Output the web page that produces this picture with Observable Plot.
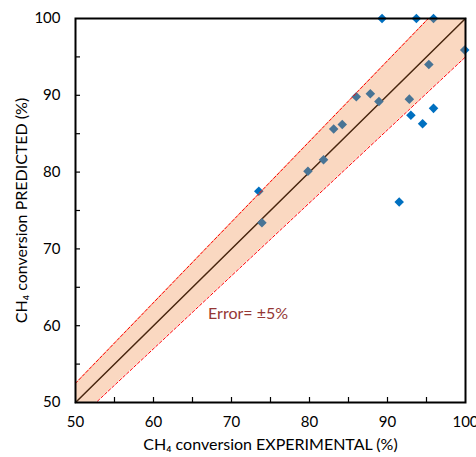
<!DOCTYPE html>
<html>
<head>
<meta charset="utf-8">
<script src="https://cdn.jsdelivr.net/npm/d3@7"></script>
<script src="https://cdn.jsdelivr.net/npm/@observablehq/plot@0.6"></script>
<style>
  html, body { margin: 0; padding: 0; background: #fff; }
  #chart { width: 476px; height: 457px; }
  svg { font-family: Lato, "Open Sans", sans-serif; }
</style>
</head>
<body>
<div id="chart"></div>
<script>
// Data
const experimental = [89.3, 93.7, 95.9, 99.9, 95.3, 86.0, 87.8, 88.9, 92.8, 95.9, 93.0, 94.5, 83.1, 84.2, 81.8, 79.8, 73.5, 73.9, 91.5];
const predicted    = [100,  100,  100,  95.9, 94.0, 89.8, 90.2, 89.2, 89.5, 88.3, 87.4, 86.3, 85.6, 86.2, 81.6, 80.1, 77.5, 73.4, 76.1];
const axisRange = [50, 100];
const majorTicks = [50, 60, 70, 80, 90, 100];
const minorTicks = [55, 60, 65, 70, 75, 80, 85, 90, 95];
const errorPct = 5;
const xLabel = "CH\u2084 conversion EXPERIMENTAL (%)";
const yLabel = "CH\u2084 conversion PREDICTED (%)";
const annotation = [{x: 67, y: 61.6, text: "Error= \u00b15%"}];

const points = experimental.map((x, i) => ({x, y: predicted[i]}));
const diag = axisRange.map(v => ({x: v, y: v}));
const band = axisRange.map(v => ({x: v, lo: v * (1 - errorPct / 100), hi: v * (1 + errorPct / 100)}));

const W = 476, H = 457, ML = 75, MR = 11, MT = 18, MB = 55, TICK = 5;
const frameW = W - ML - MR, frameH = H - MT - MB;

const chart = Plot.plot({
  width: W,
  height: H,
  marginLeft: ML,
  marginRight: MR,
  marginTop: MT,
  marginBottom: MB,
  x: {domain: axisRange},
  y: {domain: axisRange},
  style: {fontFamily: "Lato, 'Open Sans', sans-serif", fontSize: "15px", color: "#000", background: "#fff"},
  marks: [
    Plot.line(diag, {x: "x", y: "y", stroke: "#000", strokeWidth: 1.5}),
    Plot.dot(points, {x: "x", y: "y", symbol: "diamond2", r: 4.3, fill: "#0070C0", stroke: "none"}),
    Plot.areaY(band, {x: "x", y1: "lo", y2: "hi", fill: "#ED7D31", fillOpacity: 0.3, clip: true}),
    Plot.line(band, {x: "x", y: "hi", stroke: "#FF0000", strokeWidth: 1, strokeDasharray: "3,2", clip: true}),
    Plot.line(band, {x: "x", y: "lo", stroke: "#FF0000", strokeWidth: 1, strokeDasharray: "3,2", clip: true}),
    Plot.text(annotation, {x: "x", y: "y", text: "text", textAnchor: "start", fill: "#953735", fontSize: 16}),
    Plot.tickX(minorTicks, {x: d => d, insetTop: frameH - TICK, stroke: "#000", strokeWidth: 1.2}),
    Plot.tickY(minorTicks, {y: d => d, insetRight: frameW - TICK, stroke: "#000", strokeWidth: 1.2}),
    Plot.frame({stroke: "#000", strokeWidth: 2}),
    Plot.axisX({ticks: majorTicks, tickSize: 0, tickPadding: 14, label: null, fontSize: 15, fill: "#000"}),
    Plot.axisY({ticks: majorTicks, tickSize: 0, tickPadding: 15, label: null, fontSize: 15, fill: "#000"}),
    Plot.text([xLabel], {frameAnchor: "bottom", dy: 47, text: d => d, fontSize: 16, fill: "#000", textAnchor: "middle"}),
    Plot.text([yLabel], {frameAnchor: "left", dx: -54, rotate: -90, text: d => d, fontSize: 16, fill: "#000", textAnchor: "middle"})
  ]
});
document.getElementById("chart").appendChild(chart);
</script>
</body>
</html>
